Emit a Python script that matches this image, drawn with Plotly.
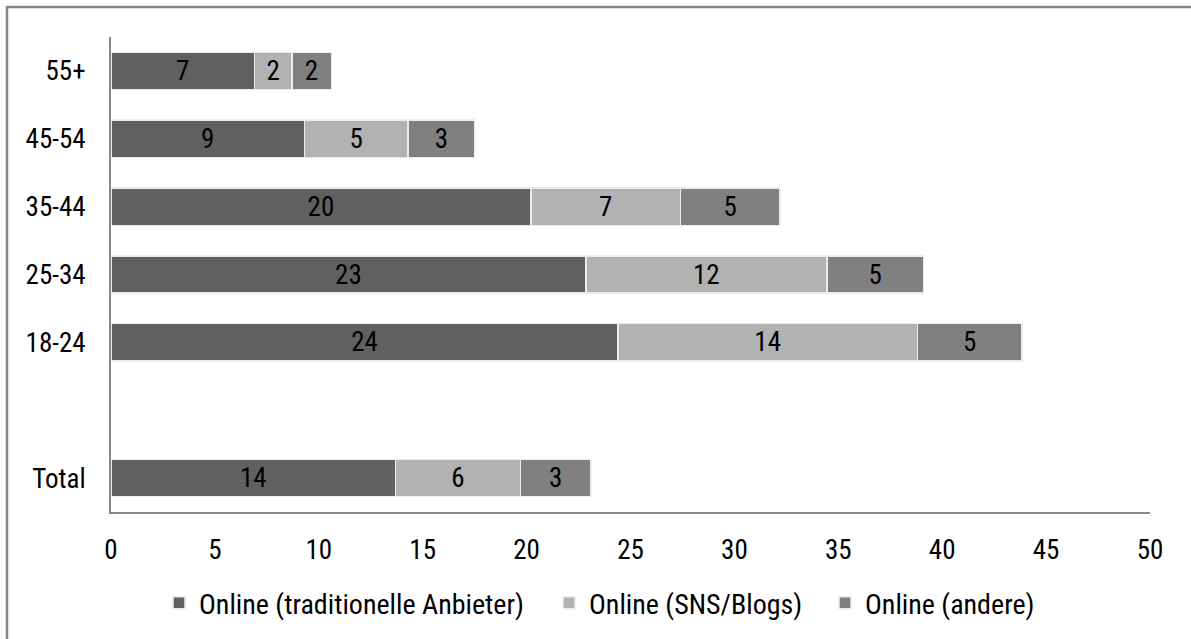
import plotly.graph_objects as go

# Data (labels show rounded values)
categories = ["Total", " ", "18-24", "25-34", "35-44", "45-54", "55+"]
traditional = [13.7, None, 24.4, 22.85, 20.2, 9.3, 6.9]
sns_blogs = [6.0, None, 14.4, 11.6, 7.2, 5.0, 1.8]
andere = [3.4, None, 5.05, 4.65, 4.8, 3.2, 1.9]
series_names = ["Online (traditionelle Anbieter)", "Online (SNS/Blogs)", "Online (andere)"]
series_colors = ["#606060", "#b2b2b2", "#808080"]
x_ticks = [0, 5, 10, 15, 20, 25, 30, 35, 40, 45, 50]

FONT = "Liberation Sans Narrow, Arial Narrow, Roboto Condensed, Liberation Sans, sans-serif"
FS = 27
LFS = 28

# plot area in pixels: left 111, right 1150, top 37, bottom 513
PW, PH = 1039, 476
legend_ids = ["legend", "legend2", "legend3"]
legend_marker_px = [179, 569, 845]

fig = go.Figure()
for name, vals, col, lid in zip(series_names, [traditional, sns_blogs, andere], series_colors, legend_ids):
    fig.add_trace(go.Bar(
        y=categories, x=vals, name=name, orientation="h", legend=lid,
        marker=dict(color=col, line=dict(color="#ececec", width=1.5)),
        texttemplate="%{x:.0f}", textposition="inside", insidetextanchor="middle",
        textangle=0, constraintext="none",
        textfont=dict(family=FONT, size=FS, color="#000000"),
    ))

legend_common = dict(orientation="h", xanchor="left", yanchor="middle",
                     y=(513 - 603) / PH, font=dict(family=FONT, size=LFS, color="#000000"),
                     bgcolor="rgba(0,0,0,0)", borderwidth=0, itemwidth=30)
legends = {}
for lid, px in zip(legend_ids, legend_marker_px):
    legends[lid] = dict(legend_common, x=(px - 20 - 111) / PW)

fig.update_layout(
    width=1191, height=639,
    barmode="stack", bargap=0.45,
    paper_bgcolor="white", plot_bgcolor="white",
    margin=dict(l=111, r=41, t=37, b=126),
    font=dict(family=FONT, size=FS, color="#000000"),
    showlegend=True,
    xaxis=dict(range=[0, 50], tickvals=x_ticks, showgrid=False, zeroline=False,
               showline=True, linecolor="#888888", linewidth=2,
               ticks="", ticklabelstandoff=13,
               tickfont=dict(family=FONT, size=FS)),
    yaxis=dict(categoryorder="array", categoryarray=categories,
               showgrid=False, zeroline=False,
               showline=True, linecolor="#888888", linewidth=2,
               ticks="", ticklabelstandoff=18,
               tickfont=dict(family=FONT, size=FS)),
    shapes=[dict(type="rect", xref="paper", yref="paper",
                 x0=-104 / PW, x1=1.2, y0=-0.5, y1=1 + 30 / PH,
                 line=dict(color="#888888", width=2.5), fillcolor="rgba(0,0,0,0)",
                 layer="below")],
    **legends,
)

fig.write_html("out.html", config={"displayModeBar": False},
               post_script="document.body.style.margin='0';document.body.style.overflow='hidden';")
